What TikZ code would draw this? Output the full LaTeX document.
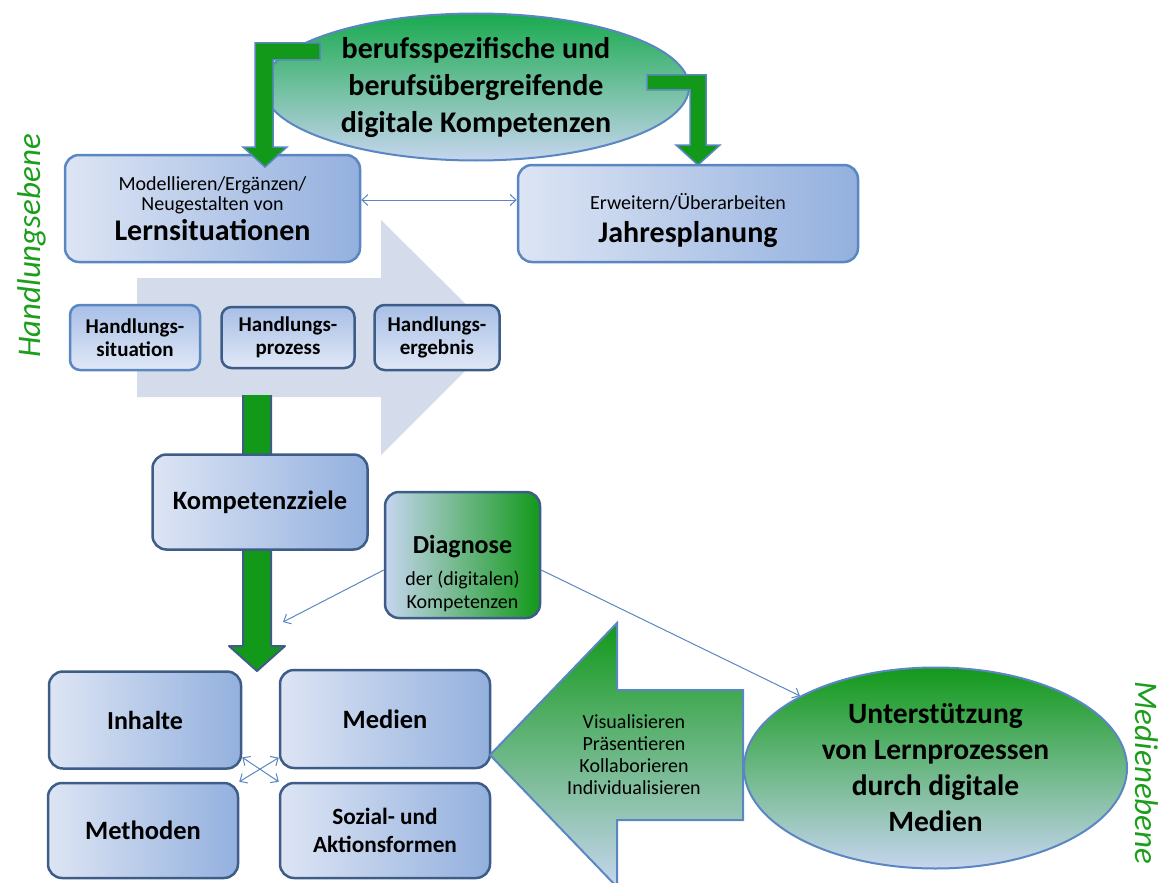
\documentclass[tikz,border=0pt]{standalone}
\usepackage{fontspec}
\setmainfont{Carlito}
\usetikzlibrary{shapes.geometric,arrows.meta}

\definecolor{boxL}{HTML}{DDE5F4}
\definecolor{boxR}{HTML}{93B0DE}
\definecolor{edgeL}{HTML}{5A86C2}
\definecolor{edgeD}{HTML}{3D5D88}
\definecolor{grn}{HTML}{12991A}
\definecolor{grnT}{HTML}{19AA4E}
\definecolor{paleB}{HTML}{C6D5EF}
\definecolor{bigarr}{HTML}{D4DBEA}
\definecolor{lblgrn}{HTML}{1C9E1C}
\definecolor{hboxT}{HTML}{A8BFE6}
\definecolor{hboxB}{HTML}{E0E8F6}

\newcommand{\fs}[2]{\fontsize{#1}{#2}\selectfont}

\begin{document}
\begin{tikzpicture}[x=1pt,y=-1pt,>={Straight Barb[length=6pt,width=11pt]},
	box/.style={draw=edgeD,line width=2.5pt,rounded corners=14pt,left color=boxL,right color=boxR,align=center,inner sep=0pt},
	hbox/.style={draw=edgeD,line width=2.5pt,rounded corners=10pt,top color=hboxT,bottom color=hboxB,align=center,inner sep=0pt,font=\fs{21}{23}\bfseries},
	oval/.style={ellipse,draw=edgeL,line width=2pt,bottom color=paleB,align=center,inner sep=0pt},
	bent/.style={fill=grn,draw=edgeL,line width=1.5pt},
	thinarr/.style={draw=edgeL,line width=1pt},
	ebene/.style={text=lblgrn,font=\fs{33}{33}\itshape}]
	
	% Define the page
	\clip (0,0) rectangle (1168,883);
	
	% Draw the big background arrow
	\fill[bigarr] (137,278) -- (381,278) -- (381,220) -- (499,337) -- (381,455) -- (381,397) -- (137,397) -- cycle;
	
	% Draw the vertical green arrow
	\fill[grn] (243,395) -- (243,646) -- (229,646) -- (257,671) -- (285,646) -- (271,646) -- (271,395) -- cycle;
	\draw[edgeD,line width=2pt,line join=round] (243,395) -- (243,646) -- (229,646) -- (257,671) -- (285,646) -- (271,646) -- (271,395);
	
	% Draw the upper level
	\node[oval,top color=grnT,minimum width=426pt,minimum height=147pt,font=\fs{30}{37}\bfseries] (kompdig) at (476,87) {berufsspezifische und\\berufsübergreifende\\digitale Kompetenzen};
	\node[box,draw=edgeL,minimum width=295pt,minimum height=107pt,font=\fs{20}{20}] (lern) at (212.5,208.5) {Modellieren/Ergänzen/\\Neugestalten von\\[4pt]{\fs{30}{30}\bfseries Lernsituationen}};
	\node[box,draw=edgeL,minimum width=340pt,minimum height=97pt,font=\fs{20}{22}] (jahr) at (688,213.5) {\rule{0pt}{30pt}Erweitern/Überarbeiten\\[11pt]{\fs{30}{30}\bfseries Jahresplanung}};
	
	% Draw the three steps of the action
	\node[hbox,draw=edgeL,minimum width=130pt,minimum height=65pt] (hsit) at (135,337.5) {Handlungs-\\situation};
	\node[hbox,minimum width=133pt,minimum height=61pt] (hproz) at (288,337.5) {Handlungs-\\prozess};
	\node[hbox,minimum width=125pt,minimum height=65pt] (herg) at (437,337.5) {Handlungs-\\ergebnis};
	
	% Draw the goals and the diagnosis
	\node[box,minimum width=215pt,minimum height=95pt,font=\fs{26.5}{26.5}\bfseries] (ziele) at (260,502) {Kompetenzziele};
	\node[box,right color=grn,left color=paleB,minimum width=155pt,minimum height=126pt,font=\fs{20}{23}] (diag) at (462.5,555) {\rule{0pt}{56pt}{\fs{26}{26}\bfseries Diagnose}\\[9pt]der (digitalen)\\Kompetenzen};
	
	% Draw the four fields of teaching
	\node[box,minimum width=192pt,minimum height=97pt,font=\fs{26}{26}\bfseries] (inh) at (145,720) {Inhalte};
	\node[box,minimum width=210pt,minimum height=98pt,font=\fs{26.5}{26.5}\bfseries] (med) at (385,719) {Medien};
	\node[box,minimum width=190pt,minimum height=95pt,font=\fs{26.5}{26.5}\bfseries] (meth) at (143,830.5) {Methoden};
	\node[box,minimum width=210pt,minimum height=95pt,font=\fs{23.3}{28}\bfseries] (soz) at (385,830.5) {Sozial- und\\Aktionsformen};
	
	% Draw the media level
	\draw[edgeL,line width=2pt,top color=grn,bottom color=paleB] (490,755) -- (617,623) -- (617,690) -- (743,690) -- (743,820) -- (617,820) -- (617,887) -- cycle;
	\node[align=center,font=\fs{20}{22}] (verben) at (634,755) {Visualisieren\\Präsentieren\\Kollaborieren\\Individualisieren};
	\node[oval,top color=grn,minimum width=383pt,minimum height=201pt,font=\fs{29.5}{36}\bfseries] (unter) at (935.5,768) {Unterstützung\\von Lernprozessen\\durch digitale\\Medien};
	
	% Draw the bent arrows from the competences
	\draw[bent] (320,43) -- (255,43) -- (255,147) -- (243,147) -- (265,167) -- (287,147) -- (273,147) -- (273,60) -- (320,60) -- cycle;
	\draw[bent] (647,75) -- (706,75) -- (706,145) -- (720,145) -- (698,165) -- (676,145) -- (690,145) -- (690,90) -- (647,90) -- cycle;
	
	% Draw the thin connectors
	\coordinate (dtip) at (283,622);
	\draw[thinarr,<->] (lern.east |- 0,200) -- (jahr.west |- 0,200);
	\draw[thinarr,->] (diag.west |- 0,570) -- (dtip);
	\draw[thinarr,->] (diag.east |- 0,570) -- (unter.152);
	\draw[thinarr,<->] (inh.-21) -- (soz.north west);
	\draw[thinarr,<->] (meth.north east) -- (med.200);
	
	% Draw the level labels
	\node[ebene,rotate=90] (hebene) at (32,246) {Handlungsebene};
	\node[ebene,rotate=-90] (mebene) at (1147,773) {Medienebene};
	
\end{tikzpicture}
\end{document}
